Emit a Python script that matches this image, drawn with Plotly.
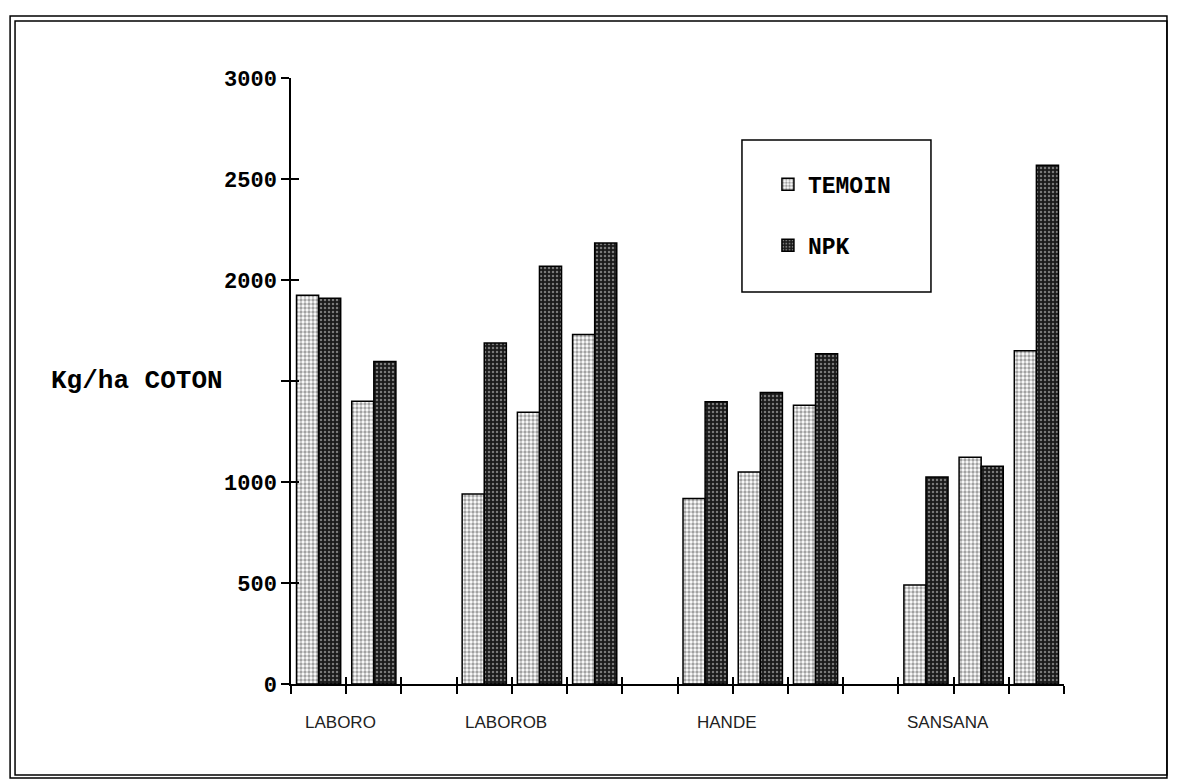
import plotly.graph_objects as go

# Rendement coton (kg/ha) par site, témoin vs NPK
sites = ["LABORO", "LABOROB", "HANDE", "SANSANA"]
temoin = {
    "LABORO": [1925, 1400],
    "LABOROB": [940, 1345, 1730],
    "HANDE": [918, 1050, 1380],
    "SANSANA": [490, 1122, 1650],
}
npk = {
    "LABORO": [1910, 1597],
    "LABOROB": [1688, 2068, 2183],
    "HANDE": [1397, 1443, 1635],
    "SANSANA": [1025, 1078, 2568],
}
y_ticks = [0, 500, 1000, 1500, 2000, 2500, 3000]
# the 1500 label is left out: the axis title sits there
y_labels = ["0", "500", "1000", "", "2000", "2500", "3000"]

# slot positions along the axis, one empty slot between sites
x_pos, t_vals, n_vals, site_start = [], [], [], []
slot = 0
for s in sites:
    site_start.append(slot)
    for t, n in zip(temoin[s], npk[s]):
        x_pos.append(slot + 0.5)
        t_vals.append(t)
        n_vals.append(n)
        slot += 1
    slot += 1
n_slots = slot - 1

mono = "Liberation Mono"

fig = go.Figure()
fig.add_trace(
    go.Bar(
        x=x_pos,
        y=t_vals,
        name="TEMOIN",
        legendgroup="t",
        marker={
            "color": "white",
            "line": {"color": "black", "width": 1.5},
            "pattern": {"shape": ".", "fgcolor": "#444444", "size": 4, "solidity": 0.55},
        },
    )
)
fig.add_trace(
    go.Bar(
        x=x_pos,
        y=n_vals,
        name="NPK",
        legendgroup="n",
        marker={
            "color": "#1a1a1a",
            "line": {"color": "black", "width": 1.5},
            "pattern": {"shape": ".", "fgcolor": "#d8d8d8", "size": 4, "solidity": 0.3},
        },
    )
)
# empty helper trace so the overlay axes (inner half of the cross ticks) are drawn
fig.add_trace(go.Scatter(x=[], y=[], xaxis="x2", yaxis="y2", showlegend=False))

# site labels under the axis
for s, start in zip(sites, site_start):
    fig.add_annotation(
        x=start + 0.9, y=0, xref="x", yref="y", yshift=-38,
        text=s, showarrow=False, xanchor="center", yanchor="middle",
        font={"family": "Liberation Sans", "size": 17, "color": "#222222"},
    )

# y title, horizontal at the 1500 level
fig.add_annotation(
    x=-0.0854, y=1500, xref="paper", yref="y",
    text="Kg/ha COTON", showarrow=False, xanchor="right", yanchor="middle",
    font={"family": mono, "size": 26, "color": "black", "weight": "bold"},
)

# legend frame and page frame
fig.add_shape(type="rect", xref="paper", yref="paper",
              x0=0.5834, x1=0.8279, y0=0.6469, y1=0.8977,
              line={"color": "black", "width": 1.5})
fig.add_shape(type="rect", xref="paper", yref="paper",
              x0=-0.3634, x1=1.1332, y0=-0.1551, y1=1.1023,
              line={"color": "black", "width": 1.5})
fig.add_shape(type="rect", xref="paper", yref="paper",
              x0=-0.3570, x1=1.1332, y0=-0.1502, y1=1.0941,
              line={"color": "black", "width": 1.5})

fig.update_layout(
    width=1170,
    height=772,
    margin={"l": 283, "r": 114, "t": 70, "b": 96},
    plot_bgcolor="white",
    paper_bgcolor="white",
    barmode="group",
    bargap=0.2,
    bargroupgap=0,
    showlegend=True,
    legend={
        "x": 0.617, "y": 0.86, "xanchor": "left", "yanchor": "top",
        "bgcolor": "rgba(0,0,0,0)", "borderwidth": 0,
        "tracegroupgap": 28,
        "font": {"family": mono, "size": 23, "color": "black", "weight": "bold"},
    },
    xaxis={
        "range": [0, n_slots],
        "tickmode": "array",
        "tickvals": list(range(n_slots + 1)),
        "showticklabels": False,
        "ticks": "outside", "ticklen": 8, "tickwidth": 1.5, "tickcolor": "black",
        "showline": True, "linecolor": "black", "linewidth": 1.5,
        "showgrid": False, "zeroline": False,
    },
    xaxis2={
        "overlaying": "x", "anchor": "y", "side": "bottom",
        "range": [0, n_slots],
        "tickmode": "array",
        "tickvals": list(range(n_slots + 1)),
        "showticklabels": False,
        "ticks": "inside", "ticklen": 7, "tickwidth": 1.5, "tickcolor": "black",
        "showline": False, "showgrid": False, "zeroline": False,
    },
    yaxis={
        "range": [0, 3000],
        "tickmode": "array",
        "tickvals": y_ticks,
        "ticktext": y_labels,
        "ticks": "outside", "ticklen": 8, "tickwidth": 1.5, "tickcolor": "black",
        "tickfont": {"family": mono, "size": 22, "color": "black", "weight": "bold"},
        "showline": True, "linecolor": "black", "linewidth": 1.5,
        "showgrid": False, "zeroline": False,
    },
    yaxis2={
        "overlaying": "y", "anchor": "x", "side": "left",
        "range": [0, 3000],
        "tickmode": "array",
        "tickvals": y_ticks,
        "showticklabels": False,
        "ticks": "inside", "ticklen": 8, "tickwidth": 1.5, "tickcolor": "black",
        "showline": False, "showgrid": False, "zeroline": False,
    },
)

fig.write_html("out.html")
